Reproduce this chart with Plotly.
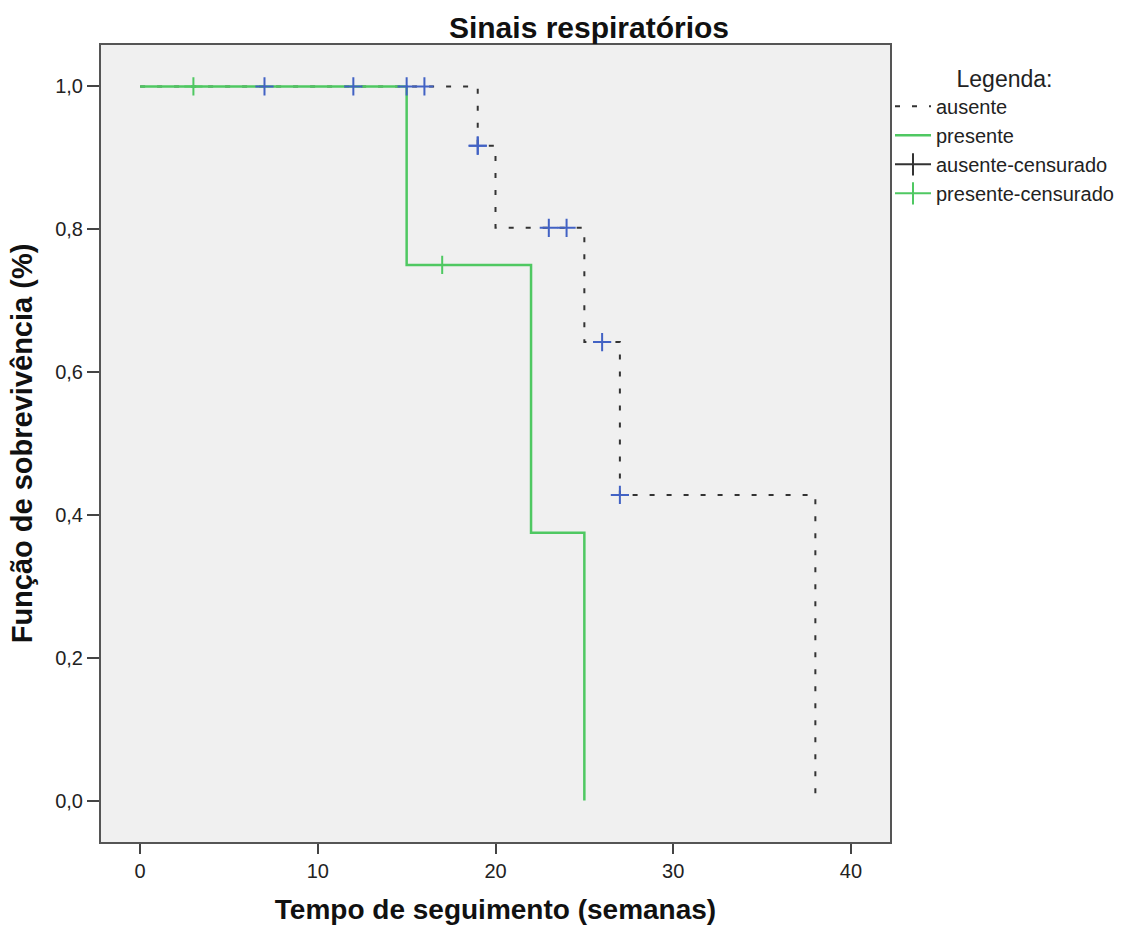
import plotly.graph_objects as go

# Kaplan-Meier step data
aus_t = [0, 19, 20, 25, 27, 38]
aus_s = [1.0, 0.917, 0.802, 0.642, 0.428, 0.0]
pre_t = [0, 15, 22, 25]
pre_s = [1.0, 0.75, 0.375, 0.0]

# Censored observations
aus_cens_t = [7, 12, 15, 16, 19, 19, 23, 24, 26, 27]
aus_cens_s = [1.0, 1.0, 1.0, 1.0, 0.917, 0.917, 0.802, 0.802, 0.642, 0.428]
pre_cens_t = [3, 17]
pre_cens_s = [1.0, 0.75]

series_names = ["ausente", "presente", "ausente-censurado", "presente-censurado"]
x_ticks = [0, 10, 20, 30, 40]
y_ticks = [0.0, 0.2, 0.4, 0.6, 0.8, 1.0]

GREEN = "#4FC862"
DARK = "#333333"
BLUE = "#4262C4"
FONT = "Liberation Sans, Arial, sans-serif"

fig = go.Figure()

fig.add_trace(go.Scatter(
    x=aus_t, y=aus_s, mode="lines", line_shape="hv", name=series_names[0],
    line=dict(color=DARK, width=2, dash="5px,12px")))
fig.add_trace(go.Scatter(
    x=pre_t, y=pre_s, mode="lines", line_shape="hv", name=series_names[1],
    line=dict(color=GREEN, width=2.5)))

# Censor marks
fig.add_trace(go.Scatter(
    x=aus_cens_t, y=aus_cens_s, mode="markers", showlegend=False,
    marker=dict(symbol="cross-thin", size=13, color=BLUE,
                line=dict(color=BLUE, width=2))))
fig.add_trace(go.Scatter(
    x=pre_cens_t, y=pre_cens_s, mode="markers", showlegend=False,
    marker=dict(symbol="cross-thin", size=13, color=GREEN,
                line=dict(color=GREEN, width=2))))

# Legend entries for censored
fig.add_trace(go.Scatter(
    x=[None], y=[None], mode="lines+markers", name=series_names[2],
    line=dict(color=DARK, width=2),
    marker=dict(symbol="line-ns", size=16, color=DARK, line=dict(color=DARK, width=2))))
fig.add_trace(go.Scatter(
    x=[None], y=[None], mode="lines+markers", name=series_names[3],
    line=dict(color=GREEN, width=2),
    marker=dict(symbol="line-ns", size=16, color=GREEN, line=dict(color=GREEN, width=2))))

fig.update_layout(
    width=1135, height=931,
    margin=dict(l=101, r=245, t=45, b=89),
    paper_bgcolor="white",
    plot_bgcolor="#F0F0F0",
    separators=",.",
    font=dict(family=FONT, color="#222222", size=20),
    title=dict(text="<b>Sinais respiratórios</b>", x=589 / 1135, xref="container",
               xanchor="center", y=1 - 27 / 931, yref="container", yanchor="middle",
               font=dict(size=30, color="#111111")),
    showlegend=True,
    legend=dict(
        x=1.0, xanchor="left", y=0.985, yanchor="top",
        bgcolor="rgba(0,0,0,0)", borderwidth=0,
        itemwidth=36, traceorder="normal",
        font=dict(size=20, color="#222222"),
        title=dict(text="Legenda:", side="top center", font=dict(size=23, color="#222222")),
        itemclick=False, itemdoubleclick=False,
    ),
    xaxis=dict(
        range=[-2.2, 42.2], tickvals=x_ticks, ticks="outside", ticklen=10, tickwidth=2,
        tickcolor="#444444", showgrid=False, zeroline=False,
        showline=True, linecolor="#555555", linewidth=2, mirror=True,
        tickfont=dict(size=20, color="#222222"),
        title=dict(text="<b>Tempo de seguimento (semanas)</b>", standoff=18,
                   font=dict(size=28, color="#111111")),
    ),
    yaxis=dict(
        range=[-0.058, 1.058], tickvals=y_ticks, tickformat=".1f", ticks="outside",
        ticklen=12, tickwidth=2, tickcolor="#444444", showgrid=False, zeroline=False,
        showline=True, linecolor="#555555", linewidth=2, mirror=True,
        tickfont=dict(size=20, color="#222222"),
        title=dict(text="<b>Função de sobrevivência (%)</b>", standoff=14,
                   font=dict(size=29, color="#111111")),
    ),
)

fig.write_html("out.html")
